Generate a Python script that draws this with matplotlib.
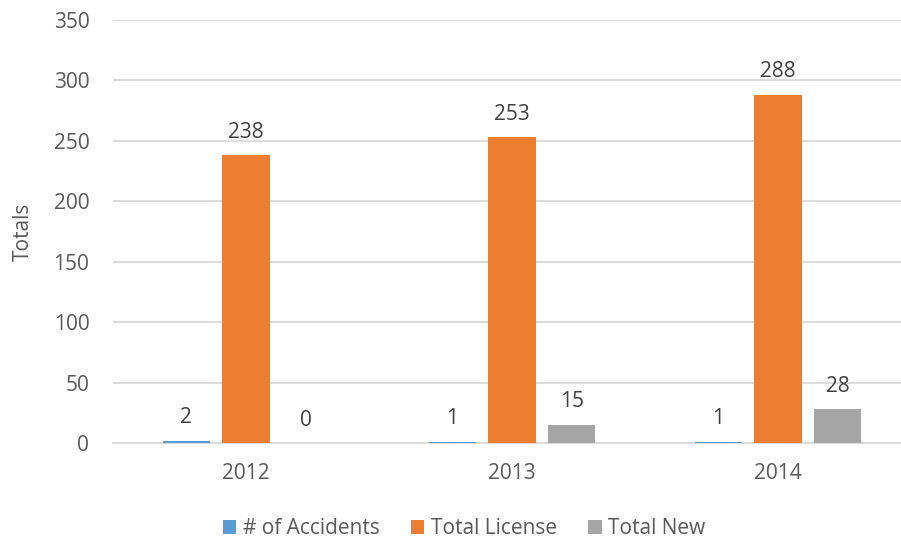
import numpy as np
from matplotlib import pyplot as plt

plt.rcParams['font.family'] = ['Open Sans', 'DejaVu Sans']

annees = ['2012', '2013', '2014']
accidents = [2, 1, 1]
licences = [238, 253, 288]
nouveaux = [0, 15, 28]

series = [('# of Accidents', accidents, '#5B9BD5'),
          ('Total License', licences, '#ED7D31'),
          ('Total New', nouveaux, '#A5A5A5')]

texte = '#595959'
grille = '#D9D9D9'

fig = plt.figure(figsize=(9.01, 5.39), dpi=100)
ax = fig.add_axes([0.1254, 0.178, 0.8857, 0.785])

x = np.arange(len(annees))
largeur = 0.177
pas = 0.224

for i, (nom, valeurs, couleur) in enumerate(series):
    pos = x + (i - 1) * pas
    ax.bar(pos, valeurs, largeur, color=couleur, label=nom, zorder=3)
    for xp, v in zip(pos, valeurs):
        ax.annotate(str(v), (xp, v), xytext=(0, 9), textcoords='offset points',
                    ha='center', va='bottom', fontsize=15, color='#404040')

ax.set_xlim(-0.5, 2.5)
ax.set_ylim(0, 350)
ax.set_yticks(np.arange(0, 351, 50))
ax.set_xticks(x)
ax.set_xticklabels(annees)
ax.yaxis.grid(True, color=grille, linewidth=1.3, zorder=0)
for s in ['top', 'right', 'left']:
    ax.spines[s].set_visible(False)
ax.spines['bottom'].set_color(grille)
ax.spines['bottom'].set_linewidth(1.3)
ax.tick_params(axis='both', length=0, labelsize=15, colors=texte)
ax.tick_params(axis='x', pad=14)
ax.tick_params(axis='y', pad=17)
ax.set_ylabel('Totals', fontsize=15, color=texte, labelpad=14)

fig.legend(loc='lower center', bbox_to_anchor=(0.515, -0.035), ncol=3, frameon=False,
           fontsize=15, labelcolor=texte, handlelength=0.65, handleheight=0.65,
           handletextpad=0.3, columnspacing=1.5)

plt.savefig('out.png', dpi=100)
